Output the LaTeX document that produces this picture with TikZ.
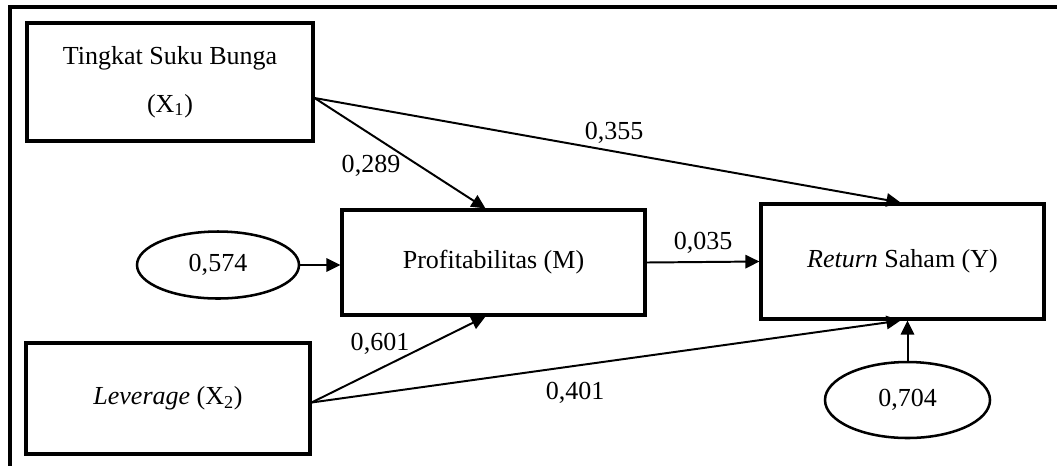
\documentclass[tikz,border=0pt]{standalone}
\usepackage{fontspec}
\setmainfont{Liberation Serif}
\usetikzlibrary{arrows.meta,shapes.geometric}

\begin{document}
\begin{tikzpicture}[every node/.style={font=\fontsize{18.5}{22}\selectfont,text=black},box/.style={draw,line width=2.2pt,rectangle,inner sep=0pt,align=center},err/.style={draw,line width=1.8pt,ellipse,inner sep=0pt},arr/.style={draw,line width=1.4pt,-{Triangle[length=10pt,width=9.5pt]}},frame/.style={draw,line width=2.2pt}]
\useasboundingbox (0,0) rectangle (26.425,-11.65);
\draw[frame] (26.425,-0.175) -- (0.25,-0.175) -- (0.25,-11.65);

\node[box,minimum width=7.15cm,minimum height=2.95cm] (x1) at (4.25,-2.05) {Tingkat Suku Bunga\\[12pt](X\textsubscript{1})};
\node[box,minimum width=7.1cm,minimum height=2.775cm] (x2) at (4.2,-9.9625) {\textit{Leverage} (X\textsubscript{2})};
\node[box,minimum width=7.575cm,minimum height=2.625cm] (m) at (12.3375,-6.5625) {Profitabilitas (M)};
\node[box,minimum width=7.075cm,minimum height=2.875cm] (y) at (22.5625,-6.5375) {\textit{Return} Saham (Y)};
\node[err,minimum width=4.05cm,minimum height=1.675cm] (e1) at (5.45,-6.625) {0,574};
\node[err,minimum width=4.125cm,minimum height=1.9cm] (e2) at (22.6875,-10) {0,704};

\draw[arr] ([yshift=-0.4cm]x1.east) -- ([xshift=-0.2cm]m.north);
\draw[arr] ([yshift=-0.4cm]x1.east) -- ([xshift=-0.05cm]y.north);
\draw[arr] ([yshift=-0.1cm]x2.east) -- ([xshift=-0.2cm]m.south);
\draw[arr] ([yshift=-0.1cm]x2.east) -- ([xshift=-0.05cm]y.south);
\draw[arr] (e1.east) -- (e1.east -| m.west);
\draw[arr] (m.east) -- (y.west);
\draw[arr] (e2.north) -- (e2.north |- y.south);

\node (l355) at (15.35,-3.325) {0,355};
\node (l289) at (9.275,-4.15) {0,289};
\node (l035) at (17.575,-6.075) {0,035};
\node (l601) at (9.5,-8.6) {0,601};
\node (l401) at (14.375,-9.825) {0,401};
\end{tikzpicture}
\end{document}
